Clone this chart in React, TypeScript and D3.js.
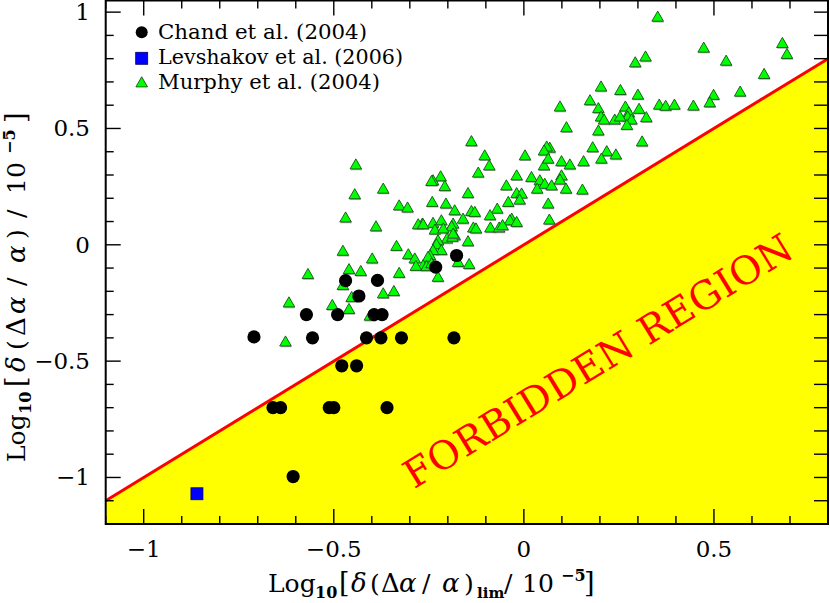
import React from "react";
import * as d3 from "d3";

// ---------------- data ----------------
const chandX = [-0.71, -0.572, -0.556, -0.49, -0.469, -0.434, -0.385, -0.394, -0.373, -0.414, -0.376, -0.322, -0.184, -0.479, -0.44, -0.66, -0.64, -0.512, -0.5, -0.36, -0.232, -0.177, -0.607];
const chandY = [-0.396, -0.30, -0.40, -0.30, -0.154, -0.22, -0.153, -0.30, -0.30, -0.40, -0.40, -0.40, -0.40, -0.52, -0.52, -0.70, -0.70, -0.70, -0.70, -0.70, -0.096, -0.046, -0.996];

const levX = [-0.86];
const levY = [-1.07];

const murphyX = [
  0.352, 0.68, 0.692, 0.473, 0.532, 0.32, 0.293, 0.632, 0.203, 0.254, 0.3, 0.569, 0.499, 0.489, 0.174, 0.095, 0.196, 0.267, 0.356, 0.373,
  0.396, 0.446, 0.303, 0.276, 0.273, 0.203, 0.211, 0.239, 0.253, 0.283, 0.322, 0.271, 0.112, 0.196, 0.311, 0.181, 0.218, 0.204, 0.242, 0.157,
  0.099, 0.121, 0.068, 0.099, 0.111, 0.154, -0.138, -0.103, -0.091, -0.12, 0.003, 0.06, 0.053, 0.053, 0.064, -0.019, -0.046, 0.02, 0.042, 0.035,
  0.055, 0.073, 0.095, -0.219, -0.239, -0.243, -0.208, -0.147, -0.019, -0.006, -0.011, 0.064, -0.041, -0.241, -0.205, -0.182, -0.138, -0.129, -0.16, -0.07,
  -0.089, -0.032, -0.037, -0.019, 0.067, -0.267, -0.239, -0.217, -0.186, -0.19, -0.234, -0.212, -0.133, -0.126, -0.088, -0.065, -0.056, -0.182, -0.202, -0.147,
  -0.226, -0.23, -0.217, -0.239, -0.247, -0.252, -0.144, -0.173, -0.226, -0.265, -0.278, -0.265, -0.304, -0.287, -0.284, -0.256, -0.243, -0.188, -0.186, -0.442,
  -0.445, -0.37, -0.469, -0.389, -0.328, -0.306, -0.476, -0.399, -0.335, -0.46, -0.429, -0.328, -0.568, -0.618, -0.504, -0.46, -0.476, -0.37, -0.342, -0.627,
  -0.405, -0.453,
];
const murphyY = [
  0.982, 0.869, 0.822, 0.849, 0.793, 0.811, 0.786, 0.736, 0.682, 0.667, 0.647, 0.66, 0.646, 0.614, 0.623, 0.596, 0.589, 0.596, 0.604, 0.599,
  0.604, 0.6, 0.586, 0.571, 0.553, 0.553, 0.54, 0.54, 0.553, 0.54, 0.55, 0.517, 0.507, 0.493, 0.446, 0.421, 0.404, 0.372, 0.39, 0.361,
  0.361, 0.347, 0.419, 0.3, 0.243, 0.239, 0.447, 0.386, 0.343, 0.312, 0.386, 0.424, 0.407, 0.343, 0.372, 0.3, 0.257, 0.293, 0.279, 0.243,
  0.264, 0.257, 0.282, 0.296, 0.279, 0.276, 0.254, 0.224, 0.224, 0.222, 0.196, 0.179, 0.186, 0.186, 0.179, 0.15, 0.147, 0.143, 0.114, 0.157,
  0.129, 0.114, 0.107, 0.1, 0.11, 0.093, 0.096, 0.107, 0.093, 0.081, 0.067, 0.072, 0.076, 0.072, 0.076, 0.076, 0.086, 0.043, 0.029, 0.017,
  0.021, 0.004, -0.021, -0.021, -0.043, -0.05, -0.081, -0.072, -0.136, -0.086, 0.09, 0.09, -0.039, -0.057, -0.089, -0.09, -0.078, 0.036, 0.05, 0.347,
  0.219, 0.243, 0.119, 0.081, 0.171, 0.162, -0.024, -0.057, -0.003, -0.103, -0.111, -0.119, -0.124, -0.246, -0.257, -0.274, -0.171, -0.207, -0.197, -0.414,
  -0.303, -0.223,
];

const xTicksMajor = [-1, -0.5, 0, 0.5];
const yTicksMajor = [-1, -0.5, 0, 0.5, 1];
const legendLabels = ["Chand et al. (2004)", "Levshakov et al. (2006)", "Murphy et al. (2004)"];
const legendWidths = [209, 245, 222];
const regionLabel = "FORBIDDEN REGION";

// ---------------- layout ----------------
const W = 830;
const H = 603;
const L = 105.7, R = 828, T = 0.5, B = 524;
const FONT = "'DejaVu Serif', serif";

export default function App() {
  const x = d3.scaleLinear().domain([-1.1, 0.8]).range([L, R]);
  const y = d3.scaleLinear().domain([-1.2, 1.05]).range([B, T]);
  const fmt = d3.format("~g");
  const [x0, x1] = x.domain();
  const [y0] = y.domain();

  const xMinor = d3.range(-11, 9).map((i) => i / 10).filter((v) => v >= x0 && v <= x1 && !xTicksMajor.some((m) => Math.abs(m - v) < 1e-9));
  const yMinor = d3.range(-12, 11).map((i) => i / 10).filter((v) => !yTicksMajor.some((m) => Math.abs(m - v) < 1e-9));

  const forbidden = d3.line<[number, number]>().x((d) => x(d[0])).y((d) => y(d[1]))([
    [x0, y0],
    [x0, x0],
    [x1, x1],
    [x1, y0],
  ]) + "Z";
  const boundary = d3.line<[number, number]>().x((d) => x(d[0])).y((d) => y(d[1]))([
    [x0, x0],
    [x1, x1],
  ]) as string;

  const tri = (cx: number, cy: number) => `M${cx},${cy - 5.2}L${cx + 5.8},${cy + 4.9}L${cx - 5.8},${cy + 4.9}Z`;

  const angle = (-Math.atan((y(0) - y(1)) / (x(1) - x(0))) * 180) / Math.PI;

  const majorLen = 15, minorLen = 8;
  const G = 26; // greek glyph size
  const BR = 27; // bracket size

  return (
    <svg width={W} height={H} style={{ position: "absolute", left: 0, top: 0, background: "#fff" }} fontFamily={FONT}>
      <path d={forbidden} fill="#ffff00" />
      <path d={boundary} stroke="#ff0000" strokeWidth={3} fill="none" />
      <text
        x={598}
        y={361}
        transform={`rotate(${angle} 598 361)`}
        textAnchor="middle"
        dominantBaseline="central"
        fill="#ff0000"
        fontSize={39}
        fontFamily="'DejaVu Serif', serif"
        textLength={448}
        lengthAdjust="spacing"
      >
        {regionLabel}
      </text>

      {/* Murphy triangles */}
      <g>
        {murphyX.map((v, i) => (
          <g key={"m" + i}>
            <path d={tri(x(v) + 0.6, y(murphyY[i]) + 1.2)} fill="#8a8a8a" opacity={0.7} />
            <path d={tri(x(v), y(murphyY[i]))} fill="#00ff00" stroke="#145214" strokeWidth={0.9} />
          </g>
        ))}
      </g>
      {/* Chand circles */}
      <g>
        {chandX.map((v, i) => (
          <circle key={"c" + i} cx={x(v)} cy={y(chandY[i])} r={6.6} fill="#000" />
        ))}
      </g>
      {/* Levshakov square */}
      {levX.map((v, i) => (
        <rect key={"l" + i} x={x(v) - 6} y={y(levY[i]) - 6} width={12} height={12} fill="#0000ff" stroke="#000066" strokeWidth={0.8} />
      ))}

      {/* frame */}
      <rect x={L} y={T} width={R - L} height={B - T} fill="none" stroke="#000" strokeWidth={2} />
      <g stroke="#000" strokeWidth={1.4}>
        {xTicksMajor.map((v) => (
          <g key={"xM" + v}>
            <line x1={x(v)} x2={x(v)} y1={B} y2={B - majorLen} />
            <line x1={x(v)} x2={x(v)} y1={T} y2={T + majorLen} />
          </g>
        ))}
        {xMinor.map((v) => (
          <g key={"xm" + v}>
            <line x1={x(v)} x2={x(v)} y1={B} y2={B - minorLen} />
            <line x1={x(v)} x2={x(v)} y1={T} y2={T + minorLen} />
          </g>
        ))}
        {yTicksMajor.map((v) => (
          <g key={"yM" + v}>
            <line x1={L} x2={L + majorLen} y1={y(v)} y2={y(v)} />
            <line x1={R} x2={R - 14} y1={y(v)} y2={y(v)} />
          </g>
        ))}
        {yMinor.map((v) => (
          <g key={"ym" + v}>
            <line x1={L} x2={L + minorLen} y1={y(v)} y2={y(v)} />
            <line x1={R} x2={R - 14} y1={y(v)} y2={y(v)} />
          </g>
        ))}
      </g>

      {/* tick labels */}
      <g fontSize={23} fill="#000">
        {xTicksMajor.map((v) => (
          <text key={"xl" + v} x={x(v)} y={557} textAnchor="middle">
            {fmt(v)}
          </text>
        ))}
        {yTicksMajor.map((v) => (
          <text key={"yl" + v} x={90} y={y(v) + 8} textAnchor="end">
            {fmt(v)}
          </text>
        ))}
      </g>

      {/* x title */}
      <text y={592} fontSize={25} fill="#000">
        <tspan x={268}>Log</tspan>
        <tspan x={315} y={598} fontSize={16} fontWeight="bold">10</tspan>
        <tspan x={339} y={592} fontSize={BR}>[</tspan>
        <tspan x={351} fontSize={G} fontStyle="italic">δ</tspan>
        <tspan x={370}>(</tspan>
        <tspan x={381} fontSize={26}>Δ</tspan>
        <tspan x={399} fontSize={G} fontStyle="italic">α</tspan>
        <tspan x={422}>/</tspan>
        <tspan x={442} fontSize={G} fontStyle="italic">α</tspan>
        <tspan x={464}>)</tspan>
        <tspan x={477} y={598} fontSize={15} fontWeight="bold">lim</tspan>
        <tspan x={504} y={592}>/</tspan>
        <tspan x={522}>10</tspan>
        <tspan x={561} y={581} fontSize={16} fontWeight="bold">−5</tspan>
        <tspan x={584} y={592} fontSize={BR}>]</tspan>
      </text>

      {/* y title */}
      <g transform="translate(25,462) rotate(-90)">
        <text y={0} fontSize={25} fill="#000">
          <tspan x={0}>Log</tspan>
          <tspan x={48} y={6} fontSize={16} fontWeight="bold">10</tspan>
          <tspan x={75} y={0} fontSize={BR}>[</tspan>
          <tspan x={90} fontSize={G} fontStyle="italic">δ</tspan>
          <tspan x={112}>(</tspan>
          <tspan x={126} fontSize={26}>Δ</tspan>
          <tspan x={148} fontSize={G} fontStyle="italic">α</tspan>
          <tspan x={176}>/</tspan>
          <tspan x={199} fontSize={G} fontStyle="italic">α</tspan>
          <tspan x={223}>)</tspan>
          <tspan x={244}>/</tspan>
          <tspan x={268}>10</tspan>
          <tspan x={308} y={-10} fontSize={16} fontWeight="bold">−5</tspan>
          <tspan x={339} y={0} fontSize={BR}>]</tspan>
        </text>
      </g>

      {/* legend */}
      <g>
        <circle cx={141.7} cy={32.3} r={6} fill="#000" />
        <rect x={135.7} y={52.3} width={12} height={12} fill="#0000ff" stroke="#000066" strokeWidth={0.8} />
        <path d={tri(141.7, 82)} fill="#00ff00" stroke="#145214" strokeWidth={0.9} />
        {legendLabels.map((t, i) => (
          <text key={t} x={158} y={32.3 + i * 25 + 7} fontSize={20} fill="#000" textLength={legendWidths[i]} lengthAdjust="spacingAndGlyphs">
            {t}
          </text>
        ))}
      </g>
    </svg>
  );
}
